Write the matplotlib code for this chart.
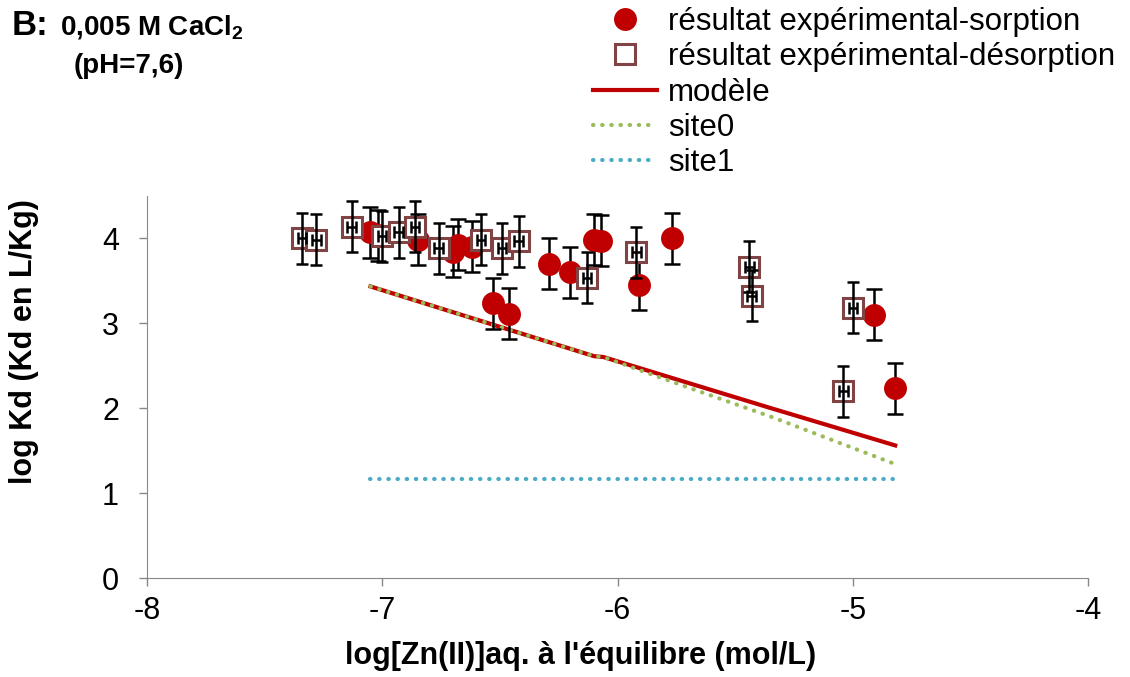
import numpy as np
import matplotlib.pyplot as plt

plt.rcParams['font.family'] = ['Liberation Sans', 'DejaVu Sans']
plt.rcParams['mathtext.fontset'] = 'custom'
plt.rcParams['mathtext.rm'] = 'Liberation Sans:bold'
plt.rcParams['mathtext.bf'] = 'Liberation Sans:bold'
plt.rcParams['axes.unicode_minus'] = False

# ------------------------
# data
# ------------------------
# sorption (red circles)
sorp_x = [-7.05, -7.02, -6.85, -6.70, -6.68, -6.62, -6.53, -6.46, -6.29, -6.20,
          -6.10, -6.07, -5.91, -5.77, -4.91, -4.82]
sorp_y = [4.07, 4.03, 3.98, 3.84, 3.92, 3.90, 3.23, 3.11, 3.70, 3.60,
          3.98, 3.97, 3.45, 4.00, 3.10, 2.23]

# desorption (open squares)
desorp_x = [-7.34, -7.28, -7.13, -7.00, -6.93, -6.86, -6.76, -6.58, -6.49, -6.42,
            -6.13, -5.92, -5.44, -5.43, -5.00, -5.04]
desorp_y = [4.00, 3.98, 4.13, 4.02, 4.07, 4.13, 3.88, 3.98, 3.88, 3.96,
            3.53, 3.83, 3.66, 3.32, 3.18, 2.20]

y_err = 0.3
x_err = 0.018

# model curves
model_x = [-7.05, -6.10, -6.06, -5.80, -5.35, -4.82]
model_y = [3.43, 2.61, 2.60, 2.38, 2.00, 1.56]
site0_x = [-7.05, -6.10, -6.06, -5.80, -5.35, -4.82]
site0_y = [3.43, 2.61, 2.60, 2.34, 1.90, 1.34]
site1_x = [-7.05, -4.82]
site1_y = [1.16, 1.16]

red = '#c00000'
sq_edge = '#804444'
dots = (0, (0.1, 2.1))

fig = plt.figure(figsize=(11.3, 6.77), dpi=100)
ax = fig.add_axes([0.130, 0.1462, 0.833, 0.565])

# experimental points
ax.errorbar(sorp_x, sorp_y, yerr=y_err, fmt='none', ecolor='black', elinewidth=1.8,
            capsize=6, capthick=1.8, zorder=2)
h_sorp, = ax.plot(sorp_x, sorp_y, 'o', color=red, markersize=16.5, markeredgewidth=0,
                  zorder=3, label='résultat expérimental-sorption')

h_des, = ax.plot(desorp_x, desorp_y, 's', markerfacecolor='white', markeredgecolor=sq_edge,
                 markersize=14, markeredgewidth=2.2, zorder=4,
                 label='résultat expérimental-désorption')
ax.errorbar(desorp_x, desorp_y, yerr=y_err, xerr=x_err, fmt='none', ecolor='black',
            elinewidth=1.8, capsize=4, capthick=1.8, zorder=5)

# model lines
h_mod, = ax.plot(model_x, model_y, color=red, lw=3, zorder=1.5, label='modèle')
h_s0, = ax.plot(site0_x, site0_y, color='#9bbb59', lw=3, ls=dots,
                dash_capstyle='round', zorder=1.6, label='site0')
h_s1, = ax.plot(site1_x, site1_y, color='#4bacc6', lw=3, ls=dots,
                dash_capstyle='round', zorder=1.6, label='site1')

ax.set_xlim(-8, -4)
ax.set_ylim(0, 4.5)
ax.set_xticks([-8, -7, -6, -5, -4])
ax.set_yticks([0, 1, 2, 3, 4])
ax.tick_params(labelsize=22, direction='out', length=6, width=1, color='#888888')
ax.tick_params(axis='y', pad=14)
ax.tick_params(axis='x', pad=7)
for s in ['top', 'right']:
    ax.spines[s].set_visible(False)
for s in ['left', 'bottom']:
    ax.spines[s].set_color('#888888')

ax.set_xlabel("log[Zn(II)]aq. à l'équilibre (mol/L)", fontsize=22, fontweight='bold')
ax.xaxis.set_label_coords((581 - 147) / 941, (578 - 656) / 382.5)
ax.xaxis.label.set_verticalalignment('center')
ax.set_ylabel("log Kd (Kd en L/Kg)", fontsize=22, fontweight='bold')
ax.yaxis.set_label_coords((24 - 147) / 941, (578 - 342) / 382.5)
ax.yaxis.label.set_verticalalignment('center')

# title in the top left corner
fig.text(12 / 1130, 1 - 35 / 677, 'B:', fontsize=25, fontweight='bold', va='baseline')
fig.text(60 / 1130, 1 - 35 / 677, r'0,005 M CaCl$_\mathbf{2}$', fontsize=20,
         fontweight='bold', va='baseline')
fig.text(129 / 1130, 1 - 73 / 677, '(pH=7,6)', fontsize=20, fontweight='bold',
         va='baseline', ha='center')

fig.legend(handles=[h_sorp, h_des, h_mod, h_s0, h_s1], loc='upper left',
           bbox_to_anchor=(593 / 1130, 1 - 7 / 677), frameon=False, fontsize=22.5,
           borderpad=0, borderaxespad=0, handlelength=2.05, handletextpad=0.35,
           labelspacing=0.17)

fig.savefig('out.png', dpi=100)
